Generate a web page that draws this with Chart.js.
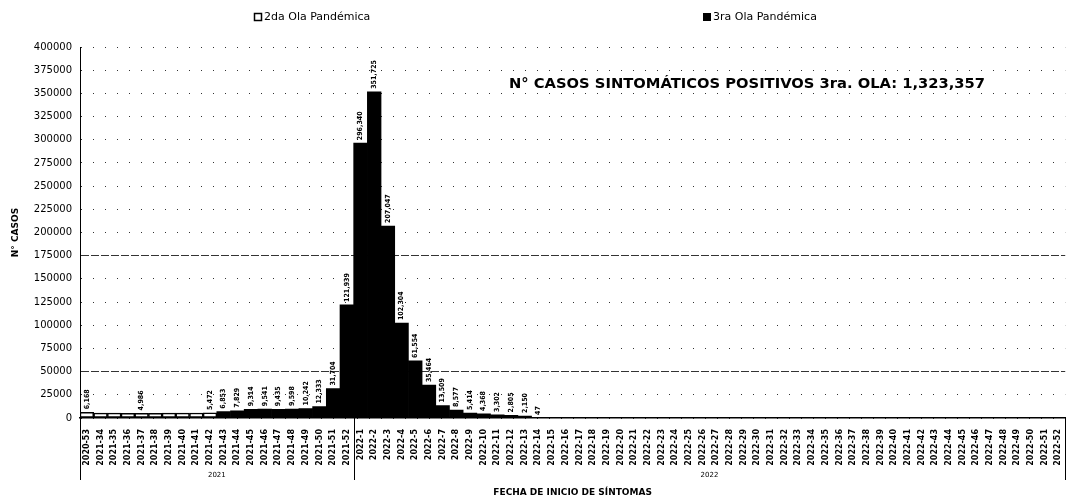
<!DOCTYPE html>
<html>
<head>
<meta charset="utf-8">
<script src="https://cdn.jsdelivr.net/npm/chart.js@4/dist/chart.umd.min.js"></script>
<style>
html,body{margin:0;padding:0;background:#fff;}
#wrap{width:1071px;height:501px;position:relative;}
</style>
</head>
<body>
<div id="wrap"><canvas id="c" width="1071" height="501"></canvas></div>
<script>
const weekLabels = [
  '2020-53','2021-34','2021-35','2021-36','2021-37','2021-38','2021-39','2021-40','2021-41','2021-42',
  '2021-43','2021-44','2021-45','2021-46','2021-47','2021-48','2021-49','2021-50','2021-51','2021-52',
  '2022-1','2022-2','2022-3','2022-4','2022-5','2022-6','2022-7','2022-8','2022-9','2022-10',
  '2022-11','2022-12','2022-13','2022-14','2022-15','2022-16','2022-17','2022-18','2022-19','2022-20',
  '2022-21','2022-22','2022-23','2022-24','2022-25','2022-26','2022-27','2022-28','2022-29','2022-30',
  '2022-31','2022-32','2022-33','2022-34','2022-35','2022-36','2022-37','2022-38','2022-39','2022-40',
  '2022-41','2022-42','2022-43','2022-44','2022-45','2022-46','2022-47','2022-48','2022-49','2022-50',
  '2022-51','2022-52'
];

const ola2Values = [
  6168, 5300, 5200, 5100, 4986, 5100, 5200, 5300, 5400, 5472,
  null, null, null, null, null, null, null, null, null, null,
  null, null, null, null, null, null, null, null, null, null,
  null, null, null, null, null, null, null, null, null, null,
  null, null, null, null, null, null, null, null, null, null,
  null, null, null, null, null, null, null, null, null, null,
  null, null, null, null, null, null, null, null, null, null,
  null, null
];

const ola3Values = [
  null, null, null, null, null, null, null, null, null, null,
  6853, 7829, 9314, 9541, 9435, 9598, 10242, 12333, 31704, 121939,
  296340, 351725, 207047, 102304, 61554, 35464, 13509, 8577, 5414, 4368,
  3302, 2805, 2150, 47, null, null, null, null, null, null,
  null, null, null, null, null, null, null, null, null, null,
  null, null, null, null, null, null, null, null, null, null,
  null, null, null, null, null, null, null, null, null, null,
  null, null
];

const ola2LabelIndices = [0, 4, 9];
const seriesNames = ['2da Ola Pandémica', '3ra Ola Pandémica'];
const yMax = 400000;
const yStep = 25000;
const yearLabels = ['2021', '2022'];
const yearStart = [0, 20];
const yearEnd = [19, 71];
const totalText = 'N° CASOS SINTOMÁTICOS POSITIVOS 3ra. OLA: 1,323,357';
const yTitle = 'N° CASOS';
const xTitle = 'FECHA DE INICIO DE SÍNTOMAS';

const FONT = "'DejaVu Sans', sans-serif";
const fmt = v => v.toLocaleString('en-US');

const decorPlugin = {
  id: 'decor',
  afterDatasetsDraw(chart) {
    const ctx = chart.ctx;
    const xs = chart.scales.x;
    const area = chart.chartArea;
    ctx.save();
    ctx.fillStyle = '#000';
    ctx.font = "bold 7px 'DejaVu Sans Condensed', 'DejaVu Sans', sans-serif";
    ctx.textAlign = 'left';
    ctx.textBaseline = 'middle';
    const drawLbl = (bar, text) => {
      ctx.save();
      ctx.translate(bar.x, bar.y - 3);
      ctx.rotate(-Math.PI / 2);
      ctx.fillText(text, 0, 0);
      ctx.restore();
    };
    const m2 = chart.getDatasetMeta(0);
    ola2LabelIndices.forEach(i => { if (ola2Values[i] != null) drawLbl(m2.data[i], fmt(ola2Values[i])); });
    const m3 = chart.getDatasetMeta(1);
    ola3Values.forEach((v, i) => { if (v != null) drawLbl(m3.data[i], fmt(v)); });

    // year group separators and labels
    const half = (xs.getPixelForValue(1) - xs.getPixelForValue(0)) / 2;
    ctx.strokeStyle = '#000';
    ctx.lineWidth = 1;
    const sepX = [xs.getPixelForValue(yearStart[0]) - half];
    yearEnd.forEach(e => sepX.push(xs.getPixelForValue(e) + half));
    sepX.forEach(x => {
      ctx.beginPath();
      ctx.moveTo(Math.round(x) + 0.5, area.bottom);
      ctx.lineTo(Math.round(x) + 0.5, area.bottom + 62);
      ctx.stroke();
    });
    ctx.font = "7px " + FONT;
    ctx.textAlign = 'center';
    yearLabels.forEach((lab, k) => {
      const cx = (xs.getPixelForValue(yearStart[k]) + xs.getPixelForValue(yearEnd[k])) / 2;
      ctx.fillText(lab, cx, area.bottom + 57);
    });

    // total annotation, sized to the reference width
    let fs = 14;
    ctx.font = "bold " + fs + "px " + FONT;
    const w = ctx.measureText(totalText).width;
    fs = fs * 476 / w;
    ctx.font = "bold " + fs.toFixed(2) + "px " + FONT;
    ctx.textAlign = 'left';
    ctx.textBaseline = 'middle';
    ctx.fillText(totalText, 509, 84);

    // legend
    ctx.font = "11px " + FONT;
    const legendX = [254, 703];
    const legendY = 17;
    seriesNames.forEach((name, k) => {
      const bx = legendX[k];
      if (k === 0) {
        ctx.fillStyle = '#fff';
        ctx.fillRect(bx, legendY - 4, 8, 8);
        ctx.strokeStyle = '#000';
        ctx.lineWidth = 1.5;
        ctx.strokeRect(bx + 0.5, legendY - 3.5, 7, 7);
      } else {
        ctx.fillStyle = '#000';
        ctx.fillRect(bx, legendY - 4, 8, 8);
      }
      ctx.fillStyle = '#000';
      ctx.fillText(name, bx + 10, legendY);
    });
    ctx.restore();
  }
};

new Chart(document.getElementById('c'), {
  type: 'bar',
  data: {
    labels: weekLabels,
    datasets: [
      {
        label: seriesNames[0],
        data: ola2Values,
        backgroundColor: '#fff',
        borderColor: '#000',
        borderWidth: 1.5,
        borderSkipped: false,
        barPercentage: 1,
        categoryPercentage: 1
      },
      {
        label: seriesNames[1],
        data: ola3Values,
        backgroundColor: '#000',
        borderWidth: 0,
        barPercentage: 1,
        categoryPercentage: 1
      }
    ]
  },
  options: {
    responsive: false,
    animation: false,
    devicePixelRatio: 1,
    layout: { padding: { top: 47, right: 2, left: 0, bottom: 0 } },
    plugins: {
      legend: { display: false },
      tooltip: { enabled: false }
    },
    scales: {
      x: {
        stacked: true,
        afterFit(scale) { scale.height = 83; },
        grid: { display: false },
        border: { display: true, color: '#000', width: 1.5 },
        ticks: {
          autoSkip: false,
          minRotation: 90,
          maxRotation: 90,
          padding: 3,
          color: '#000',
          font: { family: FONT, size: 8, weight: 'bold' }
        },
        title: {
          display: true,
          text: xTitle,
          color: '#000',
          font: { family: FONT, size: 9, weight: 'bold' },
          padding: { top: 0, bottom: 3 }
        }
      },
      y: {
        stacked: true,
        min: 0,
        max: yMax,
        afterFit(scale) { scale.width = 80; },
        ticks: {
          stepSize: yStep,
          padding: 8,
          color: '#000',
          font: { family: FONT, size: 10 },
          callback: v => String(v)
        },
        grid: {
          color: '#333',
          lineWidth: 1,
          drawTicks: false
        },
        border: {
          display: true,
          color: '#000',
          width: 1,
          dash: ctx => (ctx.tick && (ctx.tick.value === 50000 || ctx.tick.value === 175000)) ? [8, 2] : [1, 11]
        },
        title: {
          display: true,
          text: yTitle,
          color: '#000',
          font: { family: FONT, size: 9, weight: 'bold' },
          padding: { top: 10, bottom: 0 }
        }
      }
    }
  },
  plugins: [decorPlugin]
});
</script>
</body>
</html>
